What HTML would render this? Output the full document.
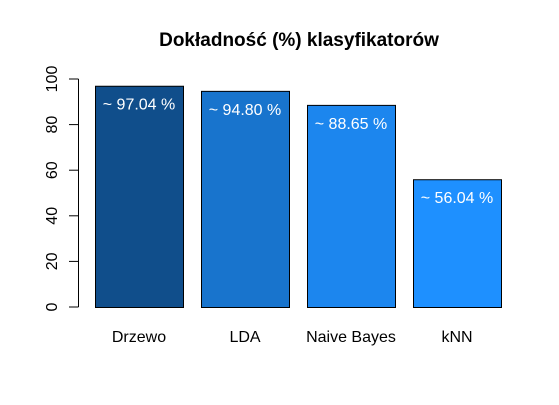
<!DOCTYPE html>
<html><head><meta charset="utf-8"><style>
body{margin:0;background:#fff}
svg{display:block;font-family:"Liberation Sans",sans-serif}
</style></head><body>
<svg id="c" width="559" height="405">
<text x="299" y="46" text-anchor="middle" font-size="19" font-weight="bold">Dokładność (%) klasyfikatorów</text>
<g id="axis"></g>
<g id="bars"></g>
</svg>
<script>
const categories=["Drzewo","LDA","Naive Bayes","kNN"];
const values=[97.04,94.80,88.65,56.04];
const valueLabels=["~ 97.04 %","~ 94.80 %","~ 88.65 %","~ 56.04 %"];
const ticks=[0,20,40,60,80,100];
const colors=["#104E8B","#1874CD","#1C86EE","#1E90FF"];
const NS="http://www.w3.org/2000/svg";
const y=v=>307-v*2.28;
const x=i=>95+i*106;
const bw=88;
function mk(t,a,p){const e=document.createElementNS(NS,t);for(const k in a)e.setAttribute(k,a[k]);p.appendChild(e);return e;}
const ax=document.getElementById('axis'),bg=document.getElementById('bars');
const al=mk('line',{x1:78.5,x2:78.5,y1:y(0),y2:y(100),stroke:'#000'},ax);


ticks.forEach(t=>{
 const l=mk('line',{x1:69,x2:78.5,y1:y(t),y2:y(t),stroke:'#000'},ax);
 
 
 const tx=mk('text',{x:0,y:0,'font-size':16,'text-anchor':'middle',transform:`translate(57,${y(t)}) rotate(-90)`},ax);
 tx.textContent=t;
 
 
});
values.forEach((v,i)=>{
 const r=mk('rect',{x:x(i)+0.5,y:y(v)+0.5,width:bw,height:y(0)-y(v),fill:colors[i],stroke:'#000','stroke-width':1},bg);
 
 
 const vl=mk('text',{x:x(i)+bw/2,y:y(v)+24,'font-size':16,'text-anchor':'middle',fill:'#fff'},bg);
 vl.textContent=valueLabels[i];
 
 
 const cl=mk('text',{x:x(i)+bw/2,y:342,'font-size':16,'text-anchor':'middle'},bg);
 cl.textContent=categories[i];
 
 
});
</script>
</body></html>
